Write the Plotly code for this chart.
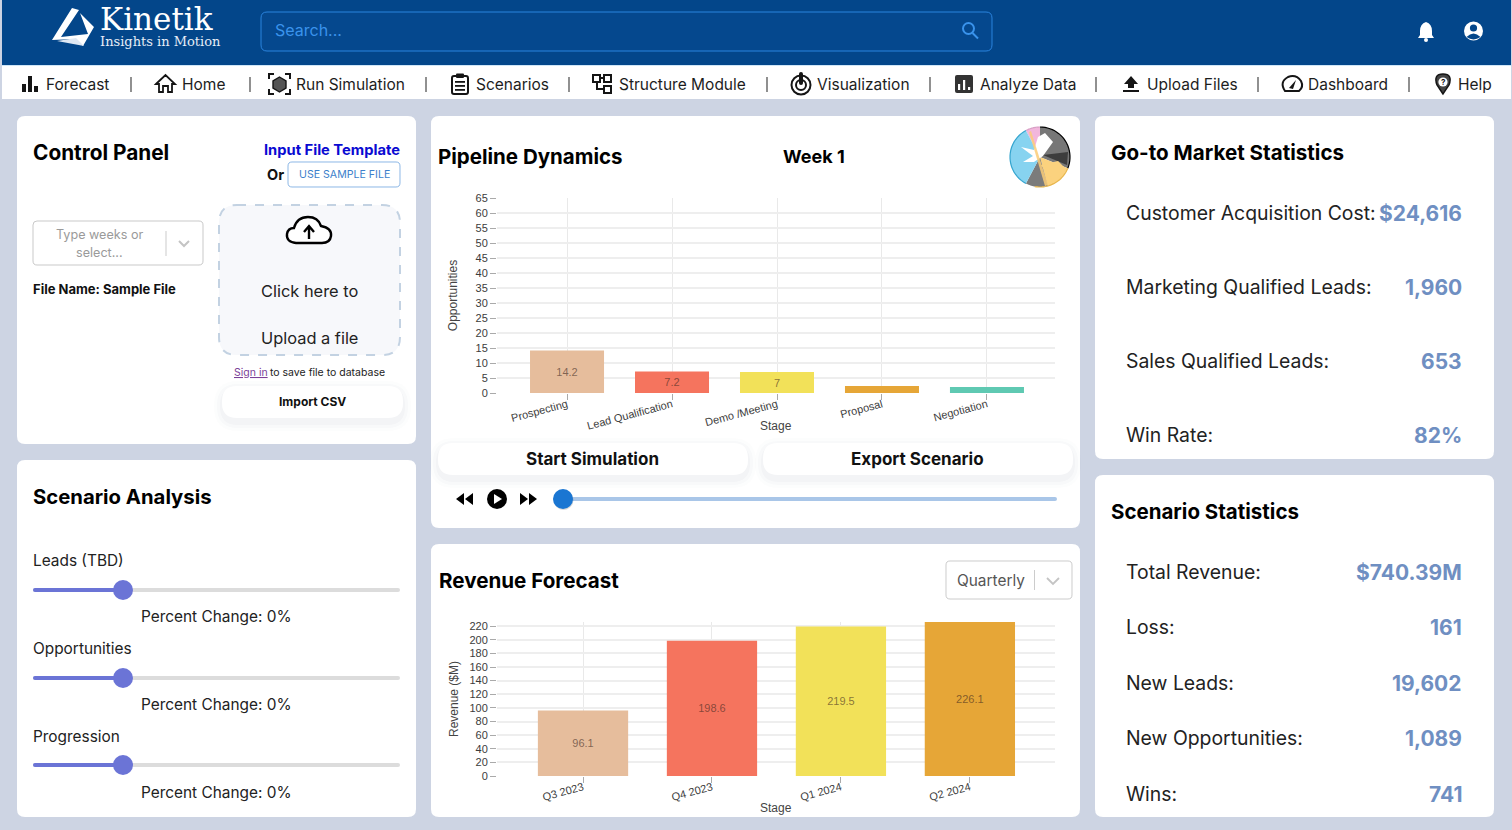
import numpy as np
import plotly.graph_objects as go

W, H = 1512, 830

# ---- chart data
pipeline_stages = ["Prospecting", "Lead Qualification", "Demo /Meeting", "Proposal", "Negotiation"]
pipeline_values = [14.2, 7.2, 7.0, 2.3, 2.0]
pipeline_labels = ["14.2", "7.2", "7", "", ""]
pipeline_ticks = list(range(0, 70, 5))
revenue_quarters = ["Q3 2023", "Q4 2023", "Q1 2024", "Q2 2024"]
revenue_values = [96.1, 198.6, 219.5, 226.1]
revenue_ticks = list(range(0, 240, 20))

nav_items = ["Forecast", "Home", "Run Simulation", "Scenarios", "Structure Module",
             "Visualization", "Analyze Data", "Upload Files", "Dashboard", "Help"]
gtm_labels = ["Customer Acquisition Cost:", "Marketing Qualified Leads:", "Sales Qualified Leads:", "Win Rate:"]
gtm_values = ["$24,616", "1,960", "653", "82%"]
scen_labels = ["Total Revenue:", "Loss:", "New Leads:", "New Opportunities:", "Wins:"]
scen_values = ["$740.39M", "161", "19,602", "1,089", "741"]
slider_labels = ["Leads (TBD)", "Opportunities", "Progression"]

# ---- styles / layout helpers
BG = "#cdd4e3"; NAVY = "#03468a"; INK = "#000000"; STAT = "#6f8fc2"
BAR_COLORS = ["#e6bd9c", "#f5745e", "#f2e159", "#e6a637", "#5fc9b2"]
SANS = "Inter"; AX = "Liberation Sans"
shapes, notes = [], []

def fx(x): return x / W
def fy(y): return 1 - y / H

def path_str(cmd):
    out, isx = [], True
    for t in cmd.split():
        if t.isalpha():
            out.append(t); isx = True
        else:
            v = float(t)
            out.append(f"{fx(v):.5f}" if isx else f"{fy(v):.5f}")
            isx = not isx
    return " ".join(out)

def path(cmd, fill=None, line=None, lw=1, dash=None):
    ln = dict(width=lw if line else 0, color=line or "rgba(0,0,0,0)")
    if dash: ln["dash"] = dash
    shapes.append(dict(type="path", xref="paper", yref="paper", path=path_str(cmd),
                       fillcolor=fill or "rgba(0,0,0,0)", line=ln, layer="below"))

def rrect(x0, y0, x1, y1, r=0, fill=None, line=None, lw=1, dash=None):
    if r:
        c = (f"M {x0+r} {y0} L {x1-r} {y0} Q {x1} {y0} {x1} {y0+r} L {x1} {y1-r} Q {x1} {y1} {x1-r} {y1} "
             f"L {x0+r} {y1} Q {x0} {y1} {x0} {y1-r} L {x0} {y0+r} Q {x0} {y0} {x0+r} {y0} Z")
    else:
        c = f"M {x0} {y0} L {x1} {y0} L {x1} {y1} L {x0} {y1} Z"
    path(c, fill, line, lw, dash)

def circ(cx, cy, r, fill=None, line=None, lw=1):
    shapes.append(dict(type="circle", xref="paper", yref="paper",
                       x0=fx(cx-r), x1=fx(cx+r), y0=fy(cy+r), y1=fy(cy-r),
                       fillcolor=fill or "rgba(0,0,0,0)",
                       line=dict(width=lw if line else 0, color=line or "rgba(0,0,0,0)"), layer="below"))

def txt(x, y, s, size=16, color="#222222", bold=False, anchor="left", font=SANS, angle=0):
    notes.append(dict(x=fx(x), y=fy(y), xref="paper", yref="paper", text=s, showarrow=False,
                      xanchor=anchor, yanchor="middle", textangle=angle, borderpad=0, borderwidth=0,
                      font=dict(family=font, size=size, color=color, weight=700 if bold else 400)))

def wedge(cx, cy, r, a0, a1, fill):
    a = np.radians(np.linspace(a0, a1, 24))
    pts = " L ".join(f"{cx + r*np.sin(t):.2f} {cy - r*np.cos(t):.2f}" for t in a)
    path(f"M {cx} {cy} L {pts} Z", fill)

def arc(cx, cy, r, a0, a1, color, lw=1.2):
    a = np.radians(np.linspace(a0, a1, 24))
    pts = " L ".join(f"{cx + r*np.sin(t):.2f} {cy - r*np.cos(t):.2f}" for t in a)
    path(f"M {pts}", None, color, lw)

def shadow_button(x0, y0, x1, y1, r=14):
    for i, a in ((9, .012), (6, .018), (3, .025)):
        rrect(x0-i+1, y0-i+4, x1+i-1, y1+i+4, r+i, fill=f"rgba(40,50,80,{a})")
    rrect(x0, y0, x1, y1, r, fill="#ffffff")

# ---- page frame
rrect(0, 0, W, H, fill=BG)
rrect(2, 0, W-1, 65, fill=NAVY)
rrect(2, 65, W-1, 66, fill="#cfe6f7")
rrect(2, 66, W-1, 99, fill="#ffffff")

# logo
path("M 52 40 L 72 8 L 79 10 L 61 37 L 88 34 L 80 13 L 94 27 L 83 46 L 75 39 Z", "#ffffff")
path("M 57 41 L 76 38 L 84 46 Z", "#dfe8f3")
txt(100, 18.8, "Kinetik", 31, "#ffffff", font="DejaVu Serif")
txt(100, 41.5, "Insights in Motion", 13, "#e6edf6", font="DejaVu Serif")

# search
rrect(261, 12, 992, 51, 6, fill="#05488e", line="#2b84de", lw=1)
txt(275, 30, "Search...", 16, "#3a93ec")
circ(968.5, 28.5, 5.5, None, "#3a93ec", 2)
path("M 972.5 33 L 978 38.5", None, "#3a93ec", 2)
# bell, user
path("M 1426 22 Q 1420 24 1420 31 L 1420 35 L 1418 38 L 1434 38 L 1432 35 L 1432 31 Q 1432 24 1426 22 Z", "#ffffff")
circ(1426, 40, 2, "#ffffff")
circ(1473.5, 31, 9.5, "#ffffff")
circ(1473.5, 28, 3.6, NAVY)
path("M 1466.5 37 Q 1473.5 30 1480.5 37 Q 1473.5 42 1466.5 37 Z", NAVY)

# nav
nav_x = [46, 182, 296, 476, 619, 817, 980, 1147, 1308, 1458]
sep_x = [131, 250, 426, 569, 767, 930, 1096, 1258, 1409]
for x, s in zip(nav_x, nav_items):
    txt(x, 84, s, 15.5, "#1d1d1d")
for x in sep_x:
    rrect(x-0.5, 77, x+0.5, 92, fill="#222222")
D = "#151515"
for a, b, c in ((22, 26, 84), (28, 32, 76), (34, 38, 86)):
    rrect(a, c, b, 92, fill=D)
path("M 156 84 L 165.5 75 L 175 84 L 172 84 L 172 92 L 168 92 L 168 86 L 163 86 L 163 92 L 159 92 L 159 84 Z", None, D, 1.8)
path("M 269 79 L 269 74 L 274 74 M 285 74 L 290 74 L 290 79 M 269 89 L 269 94 L 274 94 M 285 94 L 290 94 L 290 89", None, D, 2)
path("M 279.5 77 L 286 81 L 286 88 L 279.5 92 L 273 88 L 273 81 Z", "#555555", D, 1.4)
rrect(452, 76, 468, 94, 2, None, D, 2)
rrect(456, 73.5, 464, 78, 1, D)
for y in (81, 85, 89):
    rrect(455, y, 465, y+1.8, fill=D)
for a, b, w in ((593, 75, 7), (604, 75, 7), (604, 86, 7)):
    rrect(a, b, a+w, b+w, 0, None, D, 2)
path("M 600 78 L 604 78 M 597 82 L 597 89 L 604 89", None, D, 2)
circ(801, 85, 9.5, None, D, 2)
circ(801, 85, 5, None, D, 2)
rrect(799, 72, 803, 85, 2, D)
rrect(955, 75, 973, 93, 2, "#333333")
for a, c in ((958, 84), (963, 80), (968, 87)):
    rrect(a, c, a+2.2, 90, fill="#ffffff")
path("M 1131 76 L 1138 84 L 1134 84 L 1134 88 L 1128 88 L 1128 84 L 1124 84 Z", D)
rrect(1123, 90, 1139, 92, fill=D)
path("M 1285 91 Q 1279 82 1288 77 Q 1296 74 1301 81 Q 1304 87 1299 91 Z", None, D, 2)
path("M 1289 88 L 1296 80 L 1293 89 Z", D)
path("M 1443 94 L 1437 85 Q 1433 74 1443 74 Q 1453 74 1449 85 Z", "#444444", D, 1.5)
circ(1443, 82, 4.6, "#ffffff")
txt(1443, 82, "?", 8, D, True, "center")

# panels
for box in ((17, 116, 416, 444), (17, 460, 416, 817), (431, 116, 1080, 528),
            (431, 544, 1080, 817), (1095, 116, 1494, 459), (1095, 475, 1494, 817)):
    rrect(*box, 8, fill="#ffffff")

# ---- control panel
txt(33, 152, "Control Panel", 20.8, INK, True)
txt(400, 149.5, "Input File Template", 14.7, "#0a0ad2", True, "right")
txt(267, 174, "Or", 14.5, "#111111", True)
rrect(288, 162, 400, 187, 4, None, "#8db8e6", 1)
txt(344, 174, "USE SAMPLE FILE", 10.6, "#3c7fcb", False, "center")
rrect(33, 221, 203, 265, 4, None, "#c9c9c9", 1)
txt(99, 234, "Type weeks or", 12.6, "#9a9a9a", False, "center")
txt(99, 253, "select...", 12.6, "#9a9a9a", False, "center")
rrect(165.5, 231, 166.5, 256, fill="#cccccc")
path("M 179 241 L 184 246 L 189 241", None, "#c4c4c4", 2)
txt(33, 289, "File Name: Sample File", 13, "#111111", True)
rrect(219, 205, 400, 355, 18, "#f7f8fb", "#c3d2e2", 2, "dash")
path("M 296 243 Q 286 242 287 234 Q 288 228 294 228 Q 297 217 308 217 Q 318 217 321 226 Q 332 228 331 236 Q 330 243 322 243 Z", "#ffffff", "#000000", 2.4)
path("M 309 239 L 309 227 M 304 232 L 309 226 L 314 232", None, "#000000", 2.4)
txt(309, 291, "Click here to", 16.4, "#222222", False, "center")
txt(309, 338, "Upload a file", 16.4, "#222222", False, "center")
txt(234, 372, "<u>Sign in</u>", 10.5, "#7b3f98")
txt(270, 372, "to save file to database", 10.5, "#222222")
shadow_button(222, 386, 403, 418, 15)
txt(312, 401.5, "Import CSV", 12, "#111111", True, "center")

# ---- scenario analysis
txt(33, 496.5, "Scenario Analysis", 20.3, INK, True)
for lab, ly in zip(slider_labels, (560, 648, 736)):
    txt(33, ly, lab, 15.4, "#222222")
    ty = ly + 30 - (1 if ly == 736 else 0)
    rrect(33, ty-2, 400, ty+2, 2, "#dcdcdc")
    rrect(33, ty-2, 123, ty+2, 2, "#6b74d6")
    circ(123, ty, 10, "#6b74d6")
    txt(216, ly + 56, "Percent Change: 0%", 15.4, "#222222", False, "center")

# ---- pipeline panel
txt(438, 156, "Pipeline Dynamics", 20.5, INK, True)
txt(814, 157, "Week 1", 18, INK, True, "center")
cx, cy, r = 1040, 157, 30
circ(cx, cy, r, "#ffffff")
wedge(cx, cy, r, -28, 0, "#f2b6dc")
wedge(cx, cy, r, 0, 112, "#777777")
wedge(cx, cy, r, 112, 165, "#fbd27e")
wedge(cx, cy, r, 165, 208, "#7b7b7b")
wedge(cx, cy, r, 208, 332, "#87d3f0")
path(f"M {cx-2} {cy-20} L {cx+5} {cy-24} L {cx+13} {cy-15} L {cx+8} {cy-8} L {cx+3} {cy-1} L {cx-6} {cy+5} L {cx-17} {cy+5} L {cx-7} {cy-1} L {cx-19} {cy-10} L {cx-6} {cy-7} Z", "#ffffff")
path(f"M {cx+3} {cy-2} L {cx+28} {cy-5} L {cx+27} {cy+8} Z", "#3d3d3d")
path(f"M {cx-9} {cy-26} L {cx+8} {cy+28} L {cx+5} {cy+29} L {cx-11} {cy-25} Z", "rgba(250,205,120,0.85)")
path(f"M {cx+18} {cy+4} L {cx+26} {cy+12} L {cx+14} {cy+25} L {cx+1} {cy+8} Z", "#fbd27e")
arc(cx, cy, r, 0, 112, "#000000")
arc(cx, cy, r, 208, 332, "#35a5cf")
arc(cx, cy, r, 112, 190, "#e8b64d")
arc(cx, cy, r, 332, 360, "#d9a0c6")

shadow_button(438, 443, 748, 475, 15)
shadow_button(763, 443, 1073, 475, 15)
txt(592.5, 459, "Start Simulation", 17, "#111111", True, "center")
txt(917.5, 459, "Export Scenario", 17, "#111111", True, "center")
path("M 464 493 L 464 505 L 456 499 Z M 473 493 L 473 505 L 465 499 Z", "#000000")
circ(497, 499, 10, "#000000")
path("M 494 494 L 494 504 L 502 499 Z", "#ffffff")
path("M 520 493 L 520 505 L 528 499 Z M 529 493 L 529 505 L 537 499 Z", "#000000")
rrect(563, 497, 1057, 501, 2, "#a9c6e8")
circ(563.5, 500, 10, "rgba(0,0,0,0.15)")
circ(563, 499, 10, "#1a76d2")

# ---- revenue panel
txt(439, 580, "Revenue Forecast", 20.6, INK, True)
rrect(946, 561, 1072, 599, 4, None, "#cccccc", 1)
txt(957, 580, "Quarterly", 15.4, "#555555")
rrect(1034, 570, 1035, 590, fill="#cccccc")
path("M 1047 578 L 1053 584 L 1059 578", None, "#c4c4c4", 1.8)

# ---- stats panels
txt(1111, 152, "Go-to Market Statistics", 20.6, INK, True)
for lab, val, y in zip(gtm_labels, gtm_values, (212, 286, 360, 434)):
    txt(1126, y + 1, lab, 19.4, "#222222")
    txt(1462, y + 1, val, 21, STAT, True, "right")
txt(1111, 511, "Scenario Statistics", 20.5, INK, True)
for lab, val, y in zip(scen_labels, scen_values, (571, 626, 682, 737, 793)):
    txt(1126, y + 1, lab, 19.4, "#222222")
    txt(1462, y + 1, val, 21, STAT, True, "right")

# x axis titles sit in the tick-label band, as in the reference
title_font = dict(family=AX, size=12, color="#444444")
txt(776, 426, "Stage", 12, "#444444", False, "center", AX)
txt(776, 808, "Stage", 12, "#444444", False, "center", AX)

# ---- charts
fig = go.Figure()
txtfont = dict(family=AX, size=11, color="rgba(60,40,30,0.6)")
fig.add_trace(go.Bar(x=pipeline_stages, y=pipeline_values, text=pipeline_labels, width=0.705,
                     marker=dict(color=BAR_COLORS, line=dict(width=0)), textposition="inside",
                     insidetextanchor="middle", textangle=0, textfont=txtfont, constraintext="none",
                     xaxis="x", yaxis="y", hoverinfo="x+y", showlegend=False))
fig.add_trace(go.Bar(x=revenue_quarters, y=revenue_values, text=[f"{v:.1f}" for v in revenue_values], width=0.7,
                     marker=dict(color=BAR_COLORS[:4], line=dict(width=0)), textposition="inside",
                     insidetextanchor="middle", textangle=0, textfont=txtfont, constraintext="none",
                     xaxis="x2", yaxis="y2", hoverinfo="x+y", showlegend=False))

def axis(**k):
    base = dict(showgrid=True, zeroline=False, showline=False, ticks="outside", ticklen=6, tickwidth=1,
                tickcolor="#aaaaaa", tickfont=dict(family=AX, size=11, color="#3c3c3c"), automargin=False)
    base.update(k); return base

gridy = dict(gridcolor="#eeeeee", gridwidth=2)
gridx = dict(gridcolor="#e9e9e9", gridwidth=1.2)
fig.update_layout(
    width=W, height=H, margin=dict(l=0, r=0, t=0, b=0, pad=0),
    paper_bgcolor=BG, plot_bgcolor="rgba(0,0,0,0)", showlegend=False, bargap=0.3,
    shapes=shapes, annotations=notes,
    xaxis=axis(domain=[fx(497), fx(1055)], anchor="y", range=[-0.667, 4.648], tickangle=-15,
               ticklabelstandoff=-6, **gridx),
    yaxis=axis(domain=[fy(393), fy(198)], anchor="x", range=[0, 65], tickvals=pipeline_ticks,
               title=dict(text="Opportunities", font=title_font, standoff=15), **gridy),
    xaxis2=axis(domain=[fx(497), fx(1055)], anchor="y2", range=[-0.667, 3.66], tickangle=-15,
                ticklabelstandoff=-6, **gridx),
    yaxis2=axis(domain=[fy(776), fy(622)], anchor="x2", range=[0, 226.1], tickvals=revenue_ticks,
                title=dict(text="Revenue ($M)", font=title_font, standoff=8), **gridy),
)

fig.write_html("out.html", config=dict(displayModeBar=False),
               post_script="document.body.style.margin='0';document.body.style.overflow='hidden';document.documentElement.style.overflow='hidden';")
